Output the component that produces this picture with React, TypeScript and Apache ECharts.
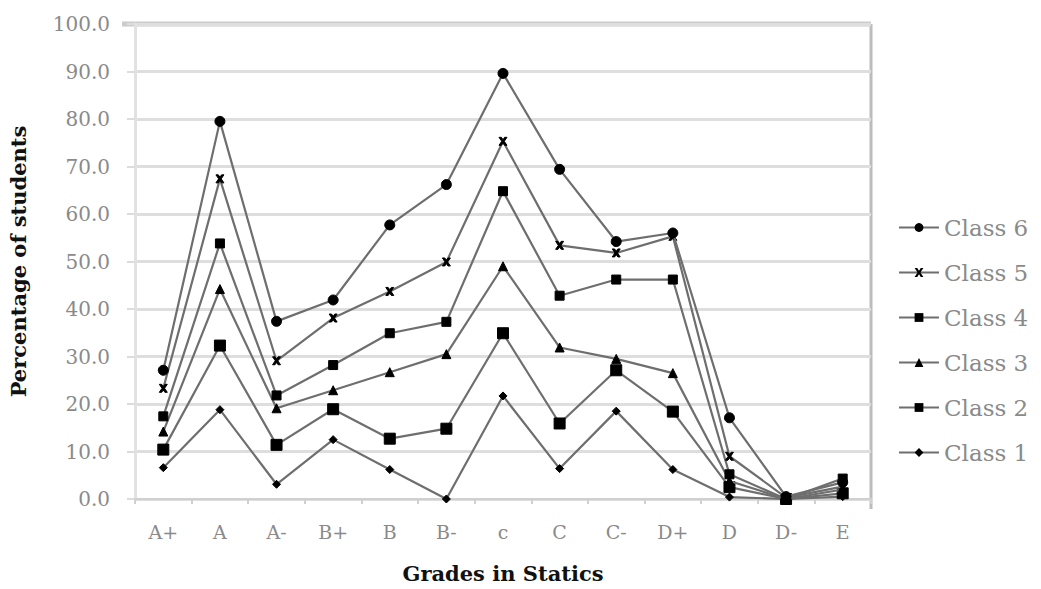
import React, { useEffect, useRef } from "react";
import * as echarts from "echarts";

// Grade categories along the x axis
const grades = ["A+", "A", "A-", "B+", "B", "B-", "c", "C", "C-", "D+", "D", "D-", "E"];

// Percentage of students per grade, one list per class
const class6 = [27.1, 79.5, 37.4, 41.9, 57.7, 66.2, 89.6, 69.4, 54.2, 56.0, 17.1, 0.5, 3.5];
const class5 = [23.3, 67.4, 29.1, 38.1, 43.7, 49.9, 75.3, 53.4, 51.8, 55.3, 9.0, 0.3, 2.6];
const class4 = [17.4, 53.8, 21.8, 28.2, 34.9, 37.3, 64.8, 42.8, 46.2, 46.2, 5.2, 0.0, 4.3];
const class3 = [14.2, 44.2, 19.1, 22.9, 26.7, 30.5, 49.0, 31.9, 29.5, 26.5, 3.8, 0.0, 2.0];
const class2 = [10.4, 32.3, 11.4, 18.9, 12.7, 14.8, 34.9, 15.9, 27.1, 18.4, 2.5, 0.0, 1.2];
const class1 = [6.6, 18.8, 3.1, 12.5, 6.2, 0.0, 21.7, 6.4, 18.5, 6.2, 0.4, 0.0, 0.5];

const seriesNames = ["Class 6", "Class 5", "Class 4", "Class 3", "Class 2", "Class 1"];
const seriesData = [class6, class5, class4, class3, class2, class1];

const X_MARK = "path://M0,0L3,0L5,2.6L7,0L10,0L6.6,4.5L10,9L7,9L5,6.4L3,9L0,9L3.4,4.5Z";
const symbols = ["circle", X_MARK, "rect", "triangle", "rect", "diamond"];
const symbolSizes = [10, 8, 9, 9, 11, 8];

const SERIF = "'DejaVu Serif', 'Liberation Serif', serif";

export default function App() {
  const ref = useRef<HTMLDivElement>(null);

  useEffect(() => {
    if (!ref.current) return;
    const chart = echarts.init(ref.current, null, { renderer: "svg" });

    chart.setOption({
      animation: false,
      backgroundColor: "#ffffff",
      grid: { left: 133, right: 170, top: 24, bottom: 84, containLabel: false },
      legend: {
        orient: "vertical",
        left: 893,
        top: 211,
        itemWidth: 40,
        itemHeight: 11,
        itemGap: 22,
        data: seriesNames,
        textStyle: { fontFamily: SERIF, fontSize: 23, color: "#8a8a8a" },
      },
      xAxis: {
        type: "category",
        data: grades,
        boundaryGap: true,
        name: "Grades in Statics",
        nameLocation: "middle",
        nameGap: 64,
        nameTextStyle: { fontFamily: SERIF, fontSize: 21, fontWeight: "bold", color: "#111" },
        axisLine: { show: true, lineStyle: { color: "#d0d0d0", width: 2 } },
        axisTick: { show: true, length: 5, lineStyle: { color: "#d0d0d0", width: 2 } },
        axisLabel: { fontFamily: SERIF, fontSize: 19, color: "#8a8a8a", margin: 23 },
        splitLine: { show: false },
      },
      yAxis: {
        type: "value",
        min: 0,
        max: 100,
        interval: 10,
        name: "Percentage of students",
        nameLocation: "middle",
        nameGap: 106,
        nameTextStyle: { fontFamily: SERIF, fontSize: 21, fontWeight: "bold", color: "#111" },
        axisLine: { show: true, lineStyle: { color: "#e2e2e2", width: 3 } },
        axisTick: { show: true, length: 8, inside: false, lineStyle: { color: "#dcdcdc", width: 2 } },
        axisLabel: {
          fontFamily: SERIF,
          fontSize: 20,
          color: "#8a8a8a",
          margin: 25,
          formatter: (v: number) => v.toFixed(1),
        },
        splitLine: { show: true, lineStyle: { color: "#dedede", width: 3 } },
      },
      graphic: [
        // right-hand frame of the plot area
        { type: "line", shape: { x1: 871, y1: 24, x2: 871, y2: 509 }, style: { stroke: "#bcbcbc", lineWidth: 3 } },
        // heavier top border at 100
        { type: "line", shape: { x1: 122, y1: 24, x2: 871, y2: 24 }, style: { stroke: "#cccccc", lineWidth: 5 } },
      ],
      series: seriesNames.map((name, i) => ({
        name,
        type: "line",
        data: seriesData[i],
        symbol: symbols[i],
        symbolSize: symbolSizes[i],
        showSymbol: true,
        lineStyle: { color: "#6e6e6e", width: 2.2 },
        itemStyle: { color: "#000000", borderColor: "#000000" },
        emphasis: { disabled: true },
        z: 10 - i,
      })),
    });

    return () => chart.dispose();
  }, []);

  return <div ref={ref} style={{ width: 1041, height: 589, position: "absolute", left: 0, top: 0 }} />;
}
